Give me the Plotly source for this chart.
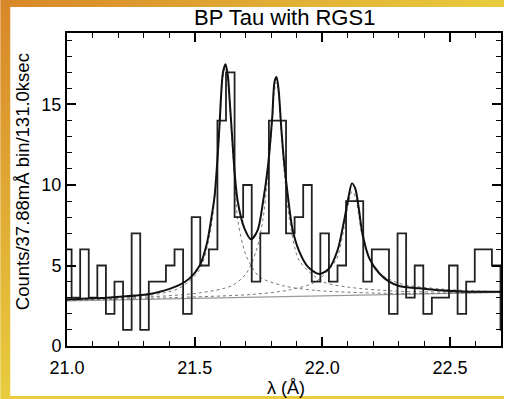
import zlib, struct, base64
import plotly.graph_objects as go

# ---------------- data ----------------
# histogram: counts per bin, first bin edge and bin width (Angstrom)
hist_first_edge = 20.9844
hist_bin_width = 0.0336
hist_counts = [6,
               3, 6, 3, 5, 2, 4, 1, 7, 1, 4,
               4, 5, 6, 2, 8, 5, 6, 14, 17, 8,
               10, 4, 7, 14, 14, 7, 8, 10, 4, 7,
               4, 5, 9, 9, 4, 6, 6, 2, 7, 3,
               5, 2, 3, 3, 5, 2, 4, 6, 6, 5,
               1]

# total model (solid black)
model_wl = [21.000, 21.168, 21.324, 21.402, 21.441, 21.480, 21.520, 21.547, 21.566, 21.578,
            21.591, 21.598, 21.611, 21.621, 21.630, 21.637, 21.646, 21.656, 21.669, 21.695,
            21.721, 21.747, 21.767, 21.787, 21.804, 21.813, 21.821, 21.829, 21.839, 21.850,
            21.864, 21.884, 21.910, 21.943, 21.988, 22.027, 22.060, 22.086, 22.103, 22.116,
            22.129, 22.142, 22.157, 22.184, 22.223, 22.262, 22.301, 22.379, 22.444, 22.574,
            22.703]
model_ct = [2.90, 3.02, 3.23, 3.55, 3.79, 4.2, 5.0, 6.3, 8.0, 9.3,
            12.0, 13.9, 17.0, 17.5, 16.8, 15.3, 13.2, 10.9, 8.96, 7.31,
            6.63, 7.2, 8.86, 11.14, 14.24, 16.42, 16.7, 15.9, 13.62, 11.5,
            9.48, 7.2, 5.86, 4.93, 4.47, 4.82, 5.96, 7.83, 9.27, 10.1,
            9.79, 8.65, 7.0, 5.45, 4.52, 4.0, 3.73, 3.58, 3.48, 3.37,
            3.37]

# line components (dotted)
comp1_wl = [21.000, 21.168, 21.324, 21.441, 21.520, 21.559, 21.578, 21.598, 21.611, 21.621,
            21.630, 21.646, 21.656, 21.669, 21.702, 21.754, 21.845, 21.975, 22.301, 22.703]
comp1_ct = [2.86, 2.98, 3.15, 3.6, 4.75, 6.9, 9.1, 13.6, 16.7, 17.2,
            16.5, 12.9, 10.5, 7.8, 5.6, 4.3, 3.75, 3.45, 3.26, 3.34]
comp2_wl = [21.000, 21.324, 21.520, 21.646, 21.702, 21.741, 21.767, 21.787, 21.804, 21.813,
            21.821, 21.829, 21.839, 21.850, 21.871, 21.910, 22.001, 22.105, 22.301, 22.703]
comp2_ct = [2.83, 3.05, 3.3, 3.75, 4.5, 5.9, 7.8, 10.7, 13.9, 15.9,
            16.4, 15.6, 13.3, 11.0, 7.9, 5.3, 4.0, 3.65, 3.4, 3.35]
comp3_wl = [21.000, 21.402, 21.721, 21.871, 21.975, 22.054, 22.086, 22.103, 22.116, 22.129,
            22.142, 22.157, 22.210, 22.301, 22.457, 22.703]
comp3_ct = [2.82, 3.0, 3.2, 3.48, 4.0, 5.34, 7.4, 8.9, 9.6, 9.3,
            8.2, 6.8, 4.7, 3.89, 3.55, 3.36]

# continuum (solid grey)
cont_wl = [21.0, 22.7]
cont_ct = [2.80, 3.33]

x_range = [21.0, 22.7]
y_range = [0, 19.44]
x_ticks = [21.0, 21.5, 22.0, 22.5]
y_ticks = [0, 5, 10, 15]

# ---------------- figure ----------------
W, H = 506, 399
ML, MR, MT, MB = 67, 3, 33, 53
PW, PH = W - ML - MR, H - MT - MB

def px_x(px):
    return (px - ML) / PW

def px_y(py):
    return (H - MB - py) / PH

edges = [hist_first_edge + i * hist_bin_width for i in range(len(hist_counts) + 1)]
hist_y = hist_counts + [hist_counts[-1]]

fig = go.Figure()
fig.add_trace(go.Scatter(x=cont_wl, y=cont_ct, mode="lines",
                         line=dict(color="#9a9a9a", width=1.2), hoverinfo="skip"))
for wl, ct in [(comp1_wl, comp1_ct), (comp2_wl, comp2_ct), (comp3_wl, comp3_ct)]:
    fig.add_trace(go.Scatter(x=wl, y=ct, mode="lines",
                             line=dict(color="#777777", width=1.0, dash="dot",
                                       shape="spline", smoothing=0.8),
                             hoverinfo="skip"))
fig.add_trace(go.Scatter(x=edges, y=hist_y, mode="lines",
                         line=dict(color="#222222", width=1.8, shape="hv")))
fig.add_trace(go.Scatter(x=model_wl, y=model_ct, mode="lines",
                         line=dict(color="#111111", width=2.0, shape="spline", smoothing=0.8)))

# gradient frame image (generated PNG)
def make_png(w, h):
    c0 = (216, 136, 42)
    c1 = (232, 204, 62)
    rows = []
    for j in range(h):
        row = bytearray([0])
        for i in range(w):
            t = min(1.0, i / (w - 1) + j / (h - 1))
            row += bytes(int(round(a + (b - a) * t)) for a, b in zip(c0, c1))
        rows.append(bytes(row))
    raw = b"".join(rows)
    def chunk(tag, data):
        c = tag + data
        return struct.pack(">I", len(data)) + c + struct.pack(">I", zlib.crc32(c) & 0xffffffff)
    png = b"\x89PNG\r\n\x1a\n" + chunk(b"IHDR", struct.pack(">IIBBBBB", w, h, 8, 2, 0, 0, 0)) \
        + chunk(b"IDAT", zlib.compress(raw)) + chunk(b"IEND", b"")
    return "data:image/png;base64," + base64.b64encode(png).decode()

fig.add_layout_image(dict(source=make_png(64, 64), xref="paper", yref="paper",
                          x=px_x(0), y=px_y(0), sizex=W / PW, sizey=H / PH,
                          xanchor="left", yanchor="top", sizing="stretch", layer="below"))
fig.add_shape(type="rect", xref="paper", yref="paper",
              x0=px_x(10), x1=px_x(W + 5), y0=px_y(396), y1=px_y(7),
              fillcolor="white", line=dict(width=0), layer="below")

font_main = "Liberation Sans, Arial, sans-serif"
fig.add_annotation(text="BP Tau with RGS1", xref="paper", yref="paper",
                   x=px_x(285), y=px_y(17), showarrow=False, xanchor="center", yanchor="middle",
                   font=dict(family=font_main, size=22, color="black"))
fig.add_annotation(text="λ (Å)", xref="paper", yref="paper",
                   x=px_x(287), y=px_y(388), showarrow=False, xanchor="center", yanchor="middle",
                   font=dict(family=font_main, size=18, color="black"))
fig.add_annotation(text="Counts/37.88mÅ bin/131.0ksec", xref="paper", yref="paper",
                   x=px_x(22), y=px_y(182), showarrow=False, xanchor="center", yanchor="middle",
                   textangle=-90, font=dict(family=font_main, size=18.5, color="black"))

axis_common = dict(showline=True, linecolor="black", linewidth=2, mirror="ticks",
                   ticks="inside", ticklen=9, tickwidth=1.5, tickcolor="black",
                   showgrid=False, zeroline=False,
                   tickfont=dict(family=font_main, size=18, color="black"))
fig.update_xaxes(range=x_range, tickvals=x_ticks, ticktext=[f"{v:.1f}" for v in x_ticks],
                 ticklabelstandoff=4,
                 minor=dict(dtick=0.1, tick0=21.0, ticks="inside", ticklen=5,
                            tickwidth=1.2, tickcolor="black", showgrid=False),
                 **axis_common)
fig.update_yaxes(range=y_range, tickvals=y_ticks, ticktext=[str(v) for v in y_ticks],
                 minor=dict(dtick=1, tick0=0, ticks="inside", ticklen=5,
                            tickwidth=1.2, tickcolor="black", showgrid=False),
                 **axis_common)

fig.update_layout(width=W, height=H, margin=dict(l=ML, r=MR, t=MT, b=MB),
                  paper_bgcolor="white", plot_bgcolor="white", showlegend=False)

fig.write_html("out.html")
